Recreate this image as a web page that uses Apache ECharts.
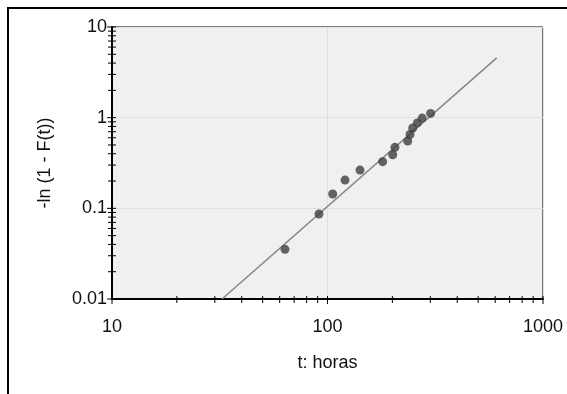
<!DOCTYPE html>
<html>
<head>
<meta charset="utf-8">
<script src="https://cdn.jsdelivr.net/npm/echarts@6/dist/echarts.min.js"></script>
<style>
html,body{margin:0;padding:0;background:#fff;}
#chart{width:567px;height:394px;}
</style>
</head>
<body>
<div id="chart"></div>
<script>
// Data
const tHours = [63.5, 91.3, 105.7, 120.6, 141.5, 180.3, 200.7, 205.6, 235.6, 241.5, 248.5, 261, 275, 301];
const cumHazard = [0.0353, 0.0865, 0.144, 0.205, 0.264, 0.327, 0.39, 0.471, 0.552, 0.652, 0.77, 0.875, 0.99, 1.115];
const fitT = [32.4, 610];
const fitH = [0.01, 4.57];
const xTickLabels = ['10', '100', '1000'];
const yTickLabels = ['0.01', '0.1', '1', '10'];
const xName = 't: horas';
const yName = '-ln (1 - F(t))';

const xMin = Number(xTickLabels[0]), xMax = Number(xTickLabels[xTickLabels.length - 1]);
const yMin = Number(yTickLabels[0]), yMax = Number(yTickLabels[yTickLabels.length - 1]);

// tick marks (major decades + minor 2..9), drawn crossing the axis lines
function tickValues(labels) {
  const out = [];
  for (let i = 0; i < labels.length; i++) {
    const d = Number(labels[i]);
    out.push([d, 1]);
    if (i < labels.length - 1) {
      for (let k = 2; k <= 9; k++) out.push([Number((d * k).toPrecision(6)), 0]);
    }
  }
  return out;
}
const tickData = [];
tickValues(xTickLabels).forEach(([v, m]) => tickData.push([v, yMin, m, 0]));
tickValues(yTickLabels).forEach(([v, m]) => tickData.push([xMin, v, m, 1]));

const fontFamily = "'Liberation Sans', Arial, sans-serif";
const chart = echarts.init(document.getElementById('chart'), null, {renderer: 'canvas'});
const fmt = v => String(Number(Number(v).toPrecision(3)));

chart.setOption({
  animation: false,
  backgroundColor: '#fff',
  graphic: [{
    type: 'rect', shape: {x: 8, y: 8, width: 700, height: 600},
    style: {fill: 'none', stroke: '#000', lineWidth: 2}, silent: true, z: 100
  }],
  grid: {
    left: 112, top: 27, right: 24, bottom: 95,
    show: true, backgroundColor: '#f0f0f0', borderColor: '#000', borderWidth: 1
  },
  xAxis: {
    type: 'log', logBase: 10, min: xMin, max: xMax,
    name: xName, nameLocation: 'middle', nameGap: 55,
    nameTextStyle: {fontSize: 18, color: '#111', fontFamily},
    axisLine: {show: true, lineStyle: {color: '#000', width: 2}},
    axisTick: {show: false},
    axisLabel: {fontSize: 18, color: '#111', fontFamily, margin: 19, formatter: fmt, showMinLabel: true, showMaxLabel: true},
    splitLine: {show: true, lineStyle: {color: '#e0e0e0', width: 1}}
  },
  yAxis: {
    type: 'log', logBase: 10, min: yMin, max: yMax,
    name: yName, nameLocation: 'middle', nameGap: 58,
    nameTextStyle: {fontSize: 18, color: '#111', fontFamily},
    axisLine: {show: true, lineStyle: {color: '#000', width: 2}},
    axisTick: {show: false},
    axisLabel: {fontSize: 18, color: '#111', fontFamily, margin: 5, padding: [8, 0, 0, 0], formatter: fmt, showMinLabel: true, showMaxLabel: true},
    splitLine: {show: true, lineStyle: {color: '#e0e0e0', width: 1}}
  },
  series: [
    {
      type: 'line', data: fitT.map((t, i) => [t, fitH[i]]),
      showSymbol: false, symbol: 'none', clip: true,
      lineStyle: {color: '#858585', width: 1.5}, z: 2
    },
    {
      type: 'scatter', data: tHours.map((t, i) => [t, cumHazard[i]]),
      symbol: 'circle', symbolSize: 9,
      itemStyle: {color: '#3f3f3f'}, z: 3
    },
    {
      type: 'custom', clip: false, z: 5, silent: true,
      data: tickData,
      renderItem: function (params, api) {
        const p = api.coord([api.value(0), api.value(1)]);
        const major = api.value(2) === 1;
        const isY = api.value(3) === 1;
        let shape;
        if (isY) {
          shape = {x1: p[0] - (major ? 5 : 4), y1: p[1], x2: p[0] + 4, y2: p[1]};
        } else {
          shape = {x1: p[0], y1: p[1] - 3, x2: p[0], y2: p[1] + (major ? 5 : 4)};
        }
        return {type: 'line', shape, style: {stroke: '#000', lineWidth: 1}};
      }
    }
  ]
});
</script>
</body>
</html>
